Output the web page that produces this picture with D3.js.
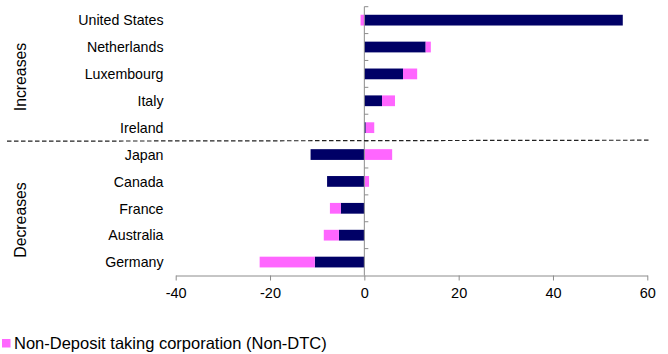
<!DOCTYPE html>
<html>
<head>
<meta charset="utf-8">
<script src="https://cdn.jsdelivr.net/npm/d3@7"></script>
<style>
  html, body { margin: 0; padding: 0; background: #fff; }
  svg { display: block; font-family: "Liberation Sans", Arial, sans-serif; }
</style>
</head>
<body>
<svg id="chart" width="668" height="354"></svg>
<script>
// Countries, top to bottom
const countries = ["United States", "Netherlands", "Luxembourg", "Italy", "Ireland",
                   "Japan", "Canada", "France", "Australia", "Germany"];
// Deposit taking corporations (DTC)
const dtc    = [54.8, 13.0, 8.2, 3.75, 0.3, -11.4, -7.9, -5.0, -5.4, -10.5];
// Non-deposit taking corporations (Non-DTC)
const nonDtc = [-0.8, 1.1, 3.0, 2.75, 1.8, 5.9, 1.0, -2.3, -3.2, -11.7];
const xTicks = [-40, -20, 0, 20, 40, 60];
const groupLabels = ["Increases", "Decreases"];
const seriesNames = ["Deposit taking corporation (DTC)", "Non-Deposit taking corporation (Non-DTC)"];
const colors = ["#000066", "#ff66ff"];

(function () {
  const svg = d3.select("#chart");

  const x = d3.scaleLinear().domain([-40, 60]).range([175.7, 647.3]);
  const y = d3.scaleBand().domain(countries).range([6.7, 275.5])
    .paddingInner(0.6).paddingOuter(0.3);

  // Stack positive and negative parts separately from zero
  const segs = [];
  countries.forEach((c, i) => {
    let pos = 0, neg = 0;
    [dtc[i], nonDtc[i]].forEach((v, s) => {
      let x0, x1;
      if (v >= 0) { x0 = pos; x1 = pos + v; pos = x1; }
      else { x0 = neg + v; x1 = neg; neg = x0; }
      segs.push({ country: c, s, x0, x1 });
    });
  });

  svg.append("g").selectAll("rect").data(segs).join("rect")
    .attr("x", d => x(d.x0))
    .attr("width", d => x(d.x1) - x(d.x0))
    .attr("y", d => y(d.country))
    .attr("height", y.bandwidth())
    .attr("fill", d => colors[d.s]);

  // Value axis (bottom), plain hyphen for negatives
  const xAxis = d3.axisBottom(x).tickValues(xTicks).tickFormat(d => String(d))
    .tickSize(5).tickPadding(4).tickSizeOuter(0);
  const gx = svg.append("g").attr("transform", "translate(0,275.5)").call(xAxis);
  gx.select(".domain").attr("stroke", "#8c8c8c");
  gx.selectAll(".tick line").attr("stroke", "#8c8c8c");
  gx.selectAll(".tick text").attr("font-size", "14.5px").attr("fill", "#000")
    .attr("font-family", "'Liberation Sans', Arial, sans-serif").attr("dy", "0.9em");

  // Category axis at zero, with ticks on band boundaries
  const zx = x(0);
  const step = y.step();
  const yTop = y.range()[0];
  const yBottom = y.range()[1];
  svg.append("line").attr("x1", zx).attr("x2", zx).attr("y1", yTop).attr("y2", yBottom)
    .attr("stroke", "#8c8c8c");
  svg.append("g").selectAll("line").data(d3.range(countries.length))
    .join("line")
    .attr("x1", zx).attr("x2", zx + 4)
    .attr("y1", i => yTop + i * step).attr("y2", i => yTop + i * step)
    .attr("stroke", "#8c8c8c");

  // Category labels
  svg.append("g").selectAll("text").data(countries).join("text")
    .attr("x", 163.5)
    .attr("y", d => y(d) + y.bandwidth() / 2)
    .attr("dy", "0.37em")
    .attr("text-anchor", "end")
    .attr("font-size", "14.2px")
    .attr("fill", "#000")
    .text(d => d);

  // Divider between the increase and decrease groups
  svg.append("line")
    .attr("x1", 7).attr("y1", 141.2).attr("x2", 650).attr("y2", 140.2)
    .attr("stroke", "#222").attr("stroke-width", 1.2)
    .attr("stroke-dasharray", "4.5,2.5");

  // Group labels
  const groupCenters = [77, 220];
  groupLabels.forEach((g, i) => {
    svg.append("text")
      .attr("transform", `translate(26,${groupCenters[i]}) rotate(-90)`)
      .attr("text-anchor", "middle")
      .attr("font-size", "15.8px")
      .attr("fill", "#000")
      .text(g);
  });

  // Legend (second entry)
  const lg = svg.append("g").attr("transform", "translate(2,339)");
  lg.append("rect").attr("width", 8.5).attr("height", 8.5).attr("fill", colors[1]);
  lg.append("text").attr("x", 12).attr("y", 10.3)
    .attr("font-size", "16.5px").attr("fill", "#000")
    .text(seriesNames[1]);
})();
</script>
</body>
</html>
